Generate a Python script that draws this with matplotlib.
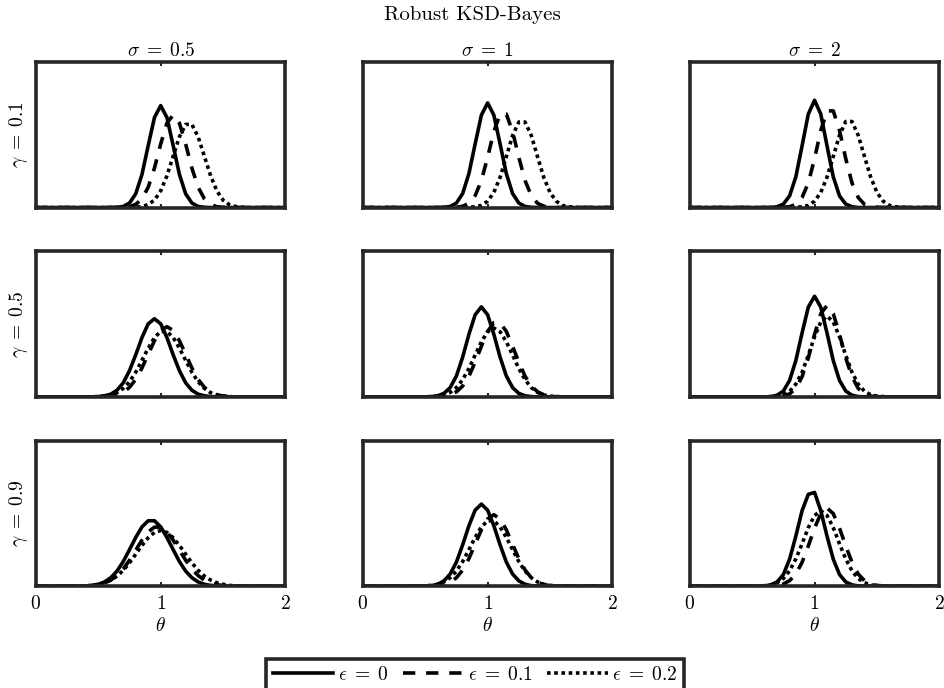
import matplotlib
matplotlib.use("Agg")
import matplotlib.pyplot as plt

plt.rcParams["mathtext.fontset"] = "cm"
plt.rcParams["font.family"] = ["cmr10", "DejaVu Serif"]
plt.rcParams["axes.formatter.use_mathtext"] = True

# grid of theta values the posteriors are read at
THETA = [0, 0.35, 0.40, 0.45, 0.50, 0.55, 0.60, 0.65, 0.70, 0.75, 0.80,
         0.85, 0.90, 0.95, 1.00, 1.05, 1.10, 1.15, 1.20, 1.25, 1.30, 1.35,
         1.40, 1.45, 1.50, 1.55, 1.60, 1.65, 1.70, 1.75, 2]

SIGMA_LABELS = ["0.5", "1", "2"]
GAMMA_LABELS = ["0.1", "0.5", "0.9"]
EPS_LABELS = ["0", "0.1", "0.2"]

# gamma = 0.1
g01_s05_e0 = [0, 0, 0, 0, 0, 0, 0, 0.01, 0.04, 0.17, 0.52, 1.25, 2.34, 3.40, 3.85, 3.40,
              2.34, 1.25, 0.52, 0.17, 0.04, 0.01, 0, 0, 0, 0, 0, 0, 0, 0, 0]
g01_s05_e01 = [0, 0, 0, 0, 0, 0, 0, 0, 0.01, 0.03, 0.12, 0.33, 0.77, 1.49, 2.40, 3.19,
               3.50, 3.19, 2.40, 1.49, 0.77, 0.33, 0.12, 0.03, 0.01, 0, 0, 0, 0, 0, 0]
g01_s05_e02 = [0, 0, 0, 0, 0, 0, 0, 0, 0, 0, 0.01, 0.04, 0.11, 0.28, 0.63, 1.20,
               1.94, 2.67, 3.14, 3.14, 2.67, 1.94, 1.20, 0.63, 0.28, 0.11, 0.04, 0.01, 0, 0, 0]

g01_s1_e0 = [0, 0, 0, 0, 0, 0, 0, 0.01, 0.04, 0.17, 0.53, 1.28, 2.40, 3.49, 3.95, 3.49,
             2.40, 1.28, 0.53, 0.17, 0.04, 0.01, 0, 0, 0, 0, 0, 0, 0, 0, 0]
g01_s1_e01 = [0, 0, 0, 0, 0, 0, 0, 0, 0, 0.01, 0.05, 0.16, 0.45, 1.02, 1.90, 2.87,
              3.53, 3.53, 2.87, 1.90, 1.02, 0.45, 0.16, 0.05, 0.01, 0, 0, 0, 0, 0, 0]
g01_s1_e02 = [0, 0, 0, 0, 0, 0, 0, 0, 0, 0, 0, 0.01, 0.03, 0.08, 0.24, 0.57,
              1.14, 1.92, 2.72, 3.23, 3.23, 2.72, 1.92, 1.14, 0.57, 0.24, 0.08, 0.03, 0.01, 0, 0]

g01_s2_e0 = [0, 0, 0, 0, 0, 0, 0, 0, 0.03, 0.13, 0.44, 1.16, 2.33, 3.53, 4.05, 3.53,
             2.33, 1.16, 0.44, 0.13, 0.03, 0, 0, 0, 0, 0, 0, 0, 0, 0, 0]
g01_s2_e01 = [0, 0, 0, 0, 0, 0, 0, 0, 0, 0.01, 0.03, 0.12, 0.38, 0.93, 1.85, 2.91,
              3.65, 3.65, 2.91, 1.85, 0.93, 0.38, 0.12, 0.03, 0.01, 0, 0, 0, 0, 0, 0]
g01_s2_e02 = [0, 0, 0, 0, 0, 0, 0, 0, 0, 0, 0, 0.01, 0.03, 0.08, 0.24, 0.57,
              1.15, 1.93, 2.73, 3.25, 3.25, 2.73, 1.93, 1.15, 0.57, 0.24, 0.08, 0.03, 0.01, 0, 0]

# gamma = 0.5
g05_s05_e0 = [0, 0, 0, 0, 0.01, 0.04, 0.10, 0.25, 0.53, 0.99, 1.59, 2.24, 2.76, 2.95, 2.76,
              2.24, 1.59, 0.99, 0.53, 0.25, 0.10, 0.04, 0.01, 0, 0, 0, 0, 0, 0, 0, 0]
g05_s05_e01 = [0, 0, 0, 0, 0, 0.01, 0.03, 0.08, 0.17, 0.36, 0.66, 1.09, 1.61, 2.12, 2.51,
               2.65, 2.51, 2.12, 1.61, 1.09, 0.66, 0.36, 0.17, 0.08, 0.03, 0.01, 0, 0, 0, 0, 0]
g05_s05_e02 = [0, 0, 0, 0, 0.01, 0.03, 0.07, 0.16, 0.32, 0.57, 0.93, 1.38, 1.84, 2.24, 2.47,
               2.47, 2.24, 1.84, 1.38, 0.93, 0.57, 0.32, 0.16, 0.07, 0.03, 0.01, 0, 0, 0, 0, 0]

g05_s1_e0 = [0, 0, 0, 0, 0, 0.01, 0.04, 0.13, 0.35, 0.79, 1.50, 2.36, 3.10, 3.40, 3.10,
             2.36, 1.50, 0.79, 0.35, 0.13, 0.04, 0.01, 0, 0, 0, 0, 0, 0, 0, 0, 0]
g05_s1_e01 = [0, 0, 0, 0, 0, 0, 0.01, 0.03, 0.08, 0.19, 0.41, 0.78, 1.31, 1.91, 2.47,
              2.80, 2.80, 2.47, 1.91, 1.31, 0.78, 0.41, 0.19, 0.08, 0.03, 0.01, 0, 0, 0, 0, 0]
g05_s1_e02 = [0, 0, 0, 0, 0, 0.01, 0.03, 0.07, 0.17, 0.35, 0.65, 1.07, 1.58, 2.08, 2.46,
              2.60, 2.46, 2.08, 1.58, 1.07, 0.65, 0.35, 0.17, 0.07, 0.03, 0.01, 0, 0, 0, 0, 0]

g05_s2_e0 = [0, 0, 0, 0, 0, 0, 0, 0.01, 0.06, 0.22, 0.62, 1.37, 2.41, 3.39, 3.80, 3.39,
             2.41, 1.37, 0.62, 0.22, 0.06, 0.01, 0, 0, 0, 0, 0, 0, 0, 0, 0]
g05_s2_e01 = [0, 0, 0, 0, 0, 0, 0, 0, 0.01, 0.03, 0.11, 0.32, 0.76, 1.47, 2.36, 3.14,
              3.45, 3.14, 2.36, 1.47, 0.76, 0.32, 0.11, 0.03, 0.01, 0, 0, 0, 0, 0, 0]
g05_s2_e02 = [0, 0, 0, 0, 0, 0, 0, 0.01, 0.03, 0.08, 0.21, 0.48, 0.93, 1.57, 2.27, 2.83,
              3.05, 2.83, 2.27, 1.57, 0.93, 0.48, 0.21, 0.08, 0.03, 0.01, 0, 0, 0, 0, 0]

# gamma = 0.9
g09_s05_e0 = [0, 0, 0.01, 0.03, 0.07, 0.16, 0.32, 0.57, 0.93, 1.38, 1.84, 2.24, 2.47, 2.47,
              2.24, 1.84, 1.38, 0.93, 0.57, 0.32, 0.16, 0.07, 0.03, 0.01, 0, 0, 0, 0, 0, 0, 0]
g09_s05_e01 = [0, 0, 0.01, 0.02, 0.06, 0.12, 0.23, 0.40, 0.65, 0.98, 1.36, 1.74, 2.05, 2.23,
               2.23, 2.05, 1.74, 1.36, 0.98, 0.65, 0.40, 0.23, 0.12, 0.06, 0.02, 0.01, 0, 0, 0, 0, 0]
g09_s05_e02 = [0, 0.01, 0.01, 0.03, 0.07, 0.13, 0.23, 0.38, 0.60, 0.88, 1.21, 1.54, 1.83, 2.03,
               2.10, 2.03, 1.83, 1.54, 1.21, 0.88, 0.60, 0.38, 0.23, 0.13, 0.07, 0.03, 0.01, 0.01, 0, 0, 0]

g09_s1_e0 = [0, 0, 0, 0, 0.01, 0.02, 0.07, 0.20, 0.46, 0.91, 1.56, 2.28, 2.87, 3.10, 2.87,
             2.28, 1.56, 0.91, 0.46, 0.20, 0.07, 0.02, 0.01, 0, 0, 0, 0, 0, 0, 0, 0]
g09_s1_e01 = [0, 0, 0, 0, 0, 0.01, 0.02, 0.06, 0.15, 0.32, 0.61, 1.04, 1.58, 2.13, 2.54,
              2.70, 2.54, 2.13, 1.58, 1.04, 0.61, 0.32, 0.15, 0.06, 0.02, 0.01, 0, 0, 0, 0, 0]
g09_s1_e02 = [0, 0, 0, 0, 0.01, 0.03, 0.07, 0.16, 0.32, 0.57, 0.93, 1.38, 1.84, 2.24, 2.47,
              2.47, 2.24, 1.84, 1.38, 0.93, 0.57, 0.32, 0.16, 0.07, 0.03, 0.01, 0, 0, 0, 0, 0]

g09_s2_e0 = [0, 0, 0, 0, 0, 0, 0.01, 0.05, 0.16, 0.44, 1.02, 1.89, 2.85, 3.47, 3.54, 2.85,
             1.89, 1.02, 0.44, 0.16, 0.05, 0.01, 0, 0, 0, 0, 0, 0, 0, 0, 0]
g09_s2_e01 = [0, 0, 0, 0, 0, 0, 0, 0.01, 0.03, 0.08, 0.21, 0.46, 0.90, 1.52, 2.19, 2.74,
              2.95, 2.74, 2.19, 1.52, 0.90, 0.46, 0.21, 0.08, 0.03, 0.01, 0, 0, 0, 0, 0]
g09_s2_e02 = [0, 0, 0, 0, 0, 0, 0.02, 0.05, 0.13, 0.29, 0.58, 1.03, 1.60, 2.21, 2.67, 2.85,
              2.67, 2.21, 1.60, 1.03, 0.58, 0.29, 0.13, 0.05, 0.02, 0, 0, 0, 0, 0, 0]

panels = [
    [(g01_s05_e0, g01_s05_e01, g01_s05_e02),
     (g01_s1_e0, g01_s1_e01, g01_s1_e02),
     (g01_s2_e0, g01_s2_e01, g01_s2_e02)],
    [(g05_s05_e0, g05_s05_e01, g05_s05_e02),
     (g05_s1_e0, g05_s1_e01, g05_s1_e02),
     (g05_s2_e0, g05_s2_e01, g05_s2_e02)],
    [(g09_s05_e0, g09_s05_e01, g09_s05_e02),
     (g09_s1_e0, g09_s1_e01, g09_s1_e02),
     (g09_s2_e0, g09_s2_e01, g09_s2_e02)],
]

styles = ["-", (0, (3.4, 3.0)), (0, (1, 1))]
LW = 2.6
FRAME = "#262626"

fig, axes = plt.subplots(3, 3, figsize=(9.45, 6.88), dpi=100)
fig.subplots_adjust(left=0.038, right=0.994, top=0.91, bottom=0.148,
                    wspace=0.31, hspace=0.30)

lines = []
for i in range(3):
    for j in range(3):
        ax = axes[i, j]
        for k in range(3):
            ln, = ax.plot(THETA, panels[i][j][k], color="black", lw=LW,
                          linestyle=styles[k], solid_joinstyle="round",
                          dash_joinstyle="round", dash_capstyle="butt")
            if i == 0 and j == 0:
                lines.append(ln)
        ax.set_xlim(0, 2)
        ax.set_ylim(0, 5.5)
        ax.set_yticks([])
        ax.set_xticks([0, 1, 2])
        ax.tick_params(axis="x", direction="in", length=3, width=1.5,
                       top=True, color=FRAME, labelsize=14, pad=6)
        for sp in ax.spines.values():
            sp.set_linewidth(2.6)
            sp.set_color(FRAME)
        if i == 2:
            ax.set_xticklabels(["$0$", "$1$", "$2$"])
            ax.set_xlabel(r"$\theta$", fontsize=14, labelpad=3)
        else:
            ax.set_xticklabels([])
        if i == 0:
            ax.set_title(r"$\sigma\;=\;%s$" % SIGMA_LABELS[j], fontsize=14, pad=4)
        if j == 0:
            ax.set_ylabel(r"$\gamma\;=\;%s$" % GAMMA_LABELS[i], fontsize=14, labelpad=4)

fig.text(0.5, 0.978, "Robust KSD-Bayes", ha="center", va="center", fontsize=15)

leg = fig.legend(lines, [r"$\epsilon\;=\;%s$" % e for e in EPS_LABELS],
                 loc="lower center", bbox_to_anchor=(0.503, -0.004), ncol=3,
                 fontsize=14, handlelength=3.1, handletextpad=0.25,
                 columnspacing=0.75, borderpad=0.35, fancybox=False,
                 framealpha=1, borderaxespad=0.0)
leg.get_frame().set_edgecolor(FRAME)
leg.get_frame().set_linewidth(2.6)

fig.savefig("out.png", dpi=100)
